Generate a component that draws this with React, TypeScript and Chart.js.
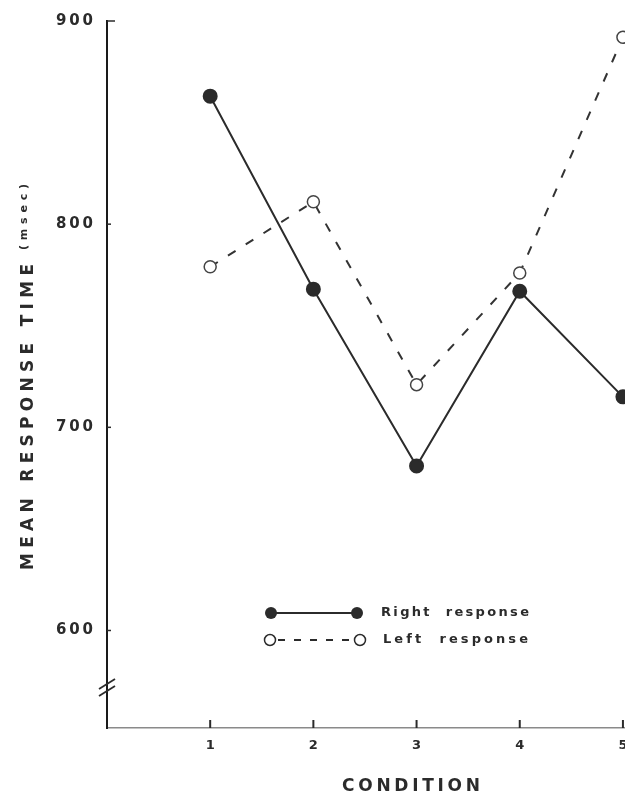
import React, { useEffect, useRef } from "react";
import { Chart, registerables } from "chart.js";

Chart.register(...registerables);

const conditions = [1, 2, 3, 4, 5];
const rightResponse = [863, 768, 681, 767, 715];
const leftResponse = [779, 811, 721, 776, 892];
const yTickValues = [600, 700, 800, 900];
const yTitle = "MEAN RESPONSE TIME";
const yUnit = "(msec)";
const xTitle = "CONDITION";
const legendLabels = ["Right  response", "Left  response"];

const FONT = '"DejaVu Sans", "Liberation Sans", sans-serif';

function spacedText(ctx: CanvasRenderingContext2D, text: string, x: number, y: number, target: number, align: "left" | "center") {
  (ctx as any).letterSpacing = "0px";
  const w = ctx.measureText(text).width;
  const n = text.length;
  const sp = Math.max(0, (target - w) / Math.max(1, n - 1));
  (ctx as any).letterSpacing = sp + "px";
  const total = w + sp * (n - 1);
  const startX = align === "center" ? x - total / 2 : x;
  ctx.textAlign = "left";
  ctx.fillText(text, startX, y);
  (ctx as any).letterSpacing = "0px";
}

const decor = {
  id: "decor",
  afterDraw(chart: any) {
    const { ctx, chartArea } = chart;
    const x = chart.scales.x;
    const y = chart.scales.y;
    ctx.save();
    ctx.fillStyle = "#2b2b2b";
    ctx.strokeStyle = "#2b2b2b";
    ctx.textBaseline = "middle";

    // y tick marks and labels
    ctx.font = "bold 15px " + FONT;
    yTickValues.forEach((v) => {
      const py = y.getPixelForValue(v);
      ctx.lineWidth = 1.5;
      ctx.beginPath();
      ctx.moveTo(chartArea.left, py);
      ctx.lineTo(chartArea.left + (v === 900 ? 8 : 4), py);
      ctx.stroke();
      spacedText(ctx, String(v), chartArea.left - 14 - 37, py, 37, "left");
    });

    // x tick marks (upward)
    conditions.forEach((c) => {
      const px = x.getPixelForValue(c);
      ctx.lineWidth = 2;
      ctx.beginPath();
      ctx.moveTo(px, chartArea.bottom);
      ctx.lineTo(px, chartArea.bottom - 8);
      ctx.stroke();
    });

    // axis break marks
    const by = chartArea.bottom - 40;
    ctx.lineWidth = 1.8;
    [-4, 3].forEach((d) => {
      ctx.beginPath();
      ctx.moveTo(chartArea.left - 8, by + d + 5);
      ctx.lineTo(chartArea.left + 8, by + d - 5);
      ctx.stroke();
    });

    // y title
    ctx.save();
    ctx.translate(29, 570);
    ctx.rotate(-Math.PI / 2);
    ctx.font = "bold 17px " + FONT;
    ctx.textBaseline = "middle";
    spacedText(ctx, yTitle, 0, 0, 306, "left");
    ctx.font = "bold 11px " + FONT;
    spacedText(ctx, yUnit, 320, -5, 66, "left");
    ctx.restore();

    // x title
    ctx.font = "bold 17px " + FONT;
    spacedText(ctx, xTitle, 411, 787, 138, "center");

    // legend
    const r1 = 613;
    const r2 = 640;
    ctx.lineWidth = 2;
    ctx.setLineDash([]);
    ctx.beginPath();
    ctx.moveTo(271, r1);
    ctx.lineTo(357, r1);
    ctx.stroke();
    [271, 357].forEach((cx) => {
      ctx.beginPath();
      ctx.arc(cx, r1, 6, 0, Math.PI * 2);
      ctx.fill();
    });
    ctx.setLineDash([7, 9]);
    ctx.beginPath();
    ctx.moveTo(278, r2);
    ctx.lineTo(352, r2);
    ctx.stroke();
    ctx.setLineDash([]);
    ctx.lineWidth = 1.5;
    [270, 360].forEach((cx) => {
      ctx.beginPath();
      ctx.arc(cx, r2, 5.5, 0, Math.PI * 2);
      ctx.fillStyle = "#ffffff";
      ctx.fill();
      ctx.stroke();
    });
    ctx.fillStyle = "#2b2b2b";
    ctx.font = "bold 13px " + FONT;
    spacedText(ctx, legendLabels[0], 381, r1, 148, "left");
    spacedText(ctx, legendLabels[1], 383, r2, 145, "left");

    ctx.restore();
  },
};

export default function App() {
  const ref = useRef<HTMLCanvasElement | null>(null);
  useEffect(() => {
    if (!ref.current) return;
    const chart = new Chart(ref.current, {
      type: "line",
      data: {
        datasets: [
          {
            label: legendLabels[0],
            data: conditions.map((c, i) => ({ x: c, y: rightResponse[i] })),
            borderColor: "#2b2b2b",
            borderWidth: 2,
            pointRadius: 6.5,
            pointBackgroundColor: "#2b2b2b",
            pointBorderColor: "#2b2b2b",
            tension: 0,
          },
          {
            label: legendLabels[1],
            data: conditions.map((c, i) => ({ x: c, y: leftResponse[i] })),
            borderColor: "#333333",
            borderWidth: 2,
            borderDash: [9, 12],
            pointRadius: 6,
            pointBackgroundColor: "#ffffff",
            pointBorderColor: "#444444",
            pointBorderWidth: 1.5,
            tension: 0,
          },
        ],
      },
      options: {
        responsive: false,
        animation: false,
        devicePixelRatio: 1,
        layout: { autoPadding: false, padding: { top: 21, right: 0, left: 0, bottom: 0 } },
        plugins: { legend: { display: false }, tooltip: { enabled: false } },
        scales: {
          x: {
            type: "linear",
            min: 0,
            max: 5.02,
            afterBuildTicks: (s: any) => {
              s.ticks = conditions.map((v) => ({ value: v }));
            },
            afterFit: (s: any) => {
              s.height = 71;
              s.paddingRight = 0;
              s.paddingLeft = 0;
            },
            grid: { display: false, drawTicks: false },
            border: { display: true, color: "#8a8a8a", width: 1.5, dash: [10, 3] },
            ticks: {
              color: "#2b2b2b",
              font: { family: "DejaVu Sans", weight: "bold", size: 13 },
              padding: 10,
              maxRotation: 0,
              autoSkip: false,
              callback: (v: any) => String(v),
            },
          },
          y: {
            type: "linear",
            min: 552,
            max: 900,
            afterBuildTicks: (s: any) => {
              s.ticks = yTickValues.map((v) => ({ value: v }));
            },
            afterFit: (s: any) => {
              s.width = 107;
              s.paddingTop = 0;
              s.paddingBottom = 0;
            },
            grid: { display: false, drawTicks: false },
            border: { display: true, color: "#1a1a1a", width: 2 },
            ticks: { display: false },
          },
        },
      },
      plugins: [decor],
    });
    return () => chart.destroy();
  }, []);
  return (
    <div style={{ position: "fixed", left: 0, top: 0, width: 625, height: 799, background: "#ffffff" }}>
      <canvas ref={ref} width={625} height={799} style={{ display: "block" }} />
    </div>
  );
}
